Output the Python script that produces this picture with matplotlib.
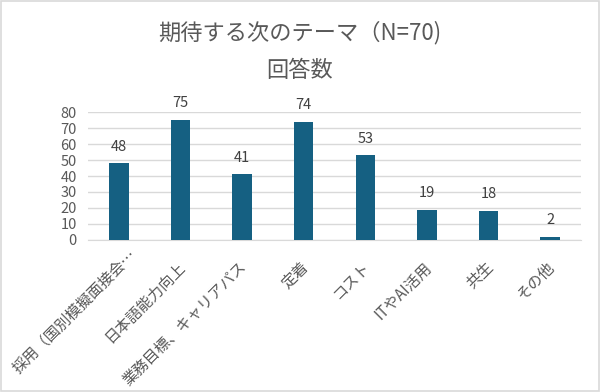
import matplotlib.pyplot as plt
from matplotlib.patches import Rectangle
from matplotlib.transforms import ScaledTranslation

plt.rcParams['font.family'] = ['Noto Sans CJK JP', 'DejaVu Sans']

# data
categories = ["採用（国別模擬面接会…", "日本語能力向上", "業務目標、キャリアパス", "定着",
              "コスト", "ITやAI活用", "共生", "その他"]
counts = [48, 75, 41, 74, 53, 19, 18, 2]
yticks = [0, 10, 20, 30, 40, 50, 60, 70, 80]

fig = plt.figure(figsize=(6, 3.92), dpi=100)
ax = fig.add_axes([0.1467, 0.388, 0.8216, 0.326])

x = range(len(categories))
bars = ax.bar(x, counts, width=0.315, color="#156082", zorder=3)
for b, v in zip(bars, counts):
    ax.annotate(str(v), (b.get_x() + b.get_width() / 2, v), xytext=(0, 7),
                textcoords="offset points", ha="center", va="bottom",
                fontsize=10.5, color="#404040")

ax.set_xlim(-0.5, len(categories) - 0.5)
ax.set_ylim(0, 80)
ax.set_yticks(yticks)
ax.yaxis.grid(True, color="#D9D9D9", linewidth=1, zorder=0)
for s in ["top", "right", "left"]:
    ax.spines[s].set_visible(False)
ax.spines["bottom"].set_color("#D9D9D9")
ax.tick_params(axis="both", length=0, colors="#595959", labelsize=10.5)
ax.tick_params(axis="y", pad=8)
ax.tick_params(axis="x", pad=13.5)
ax.set_xticks(list(x))
ax.set_xticklabels(categories, rotation=45, ha="right", va="top",
                   rotation_mode="anchor", fontsize=11, color="#595959")
# nudge the rotated labels; the long truncated first one sits higher in the original
for i, lbl in enumerate(ax.get_xticklabels()):
    dx, dy = (0.09, 0.13) if i == 0 else (-0.04, 0.0)
    lbl.set_transform(lbl.get_transform() + ScaledTranslation(dx, dy, fig.dpi_scale_trans))

fig.text(0.5, 0.918, "期待する次のテーマ（N=70)", ha="center", va="center",
         fontsize=16, color="#595959")
fig.text(0.5, 0.821, "回答数", ha="center", va="center",
         fontsize=16, color="#595959")

# light frame round the chart, like the Excel chart area
fig.patches.append(Rectangle((0.002, 0.003), 0.996, 0.994, transform=fig.transFigure,
                             fill=False, edgecolor="#D9D9D9", linewidth=1.2))

fig.savefig("out.png", dpi=100)
